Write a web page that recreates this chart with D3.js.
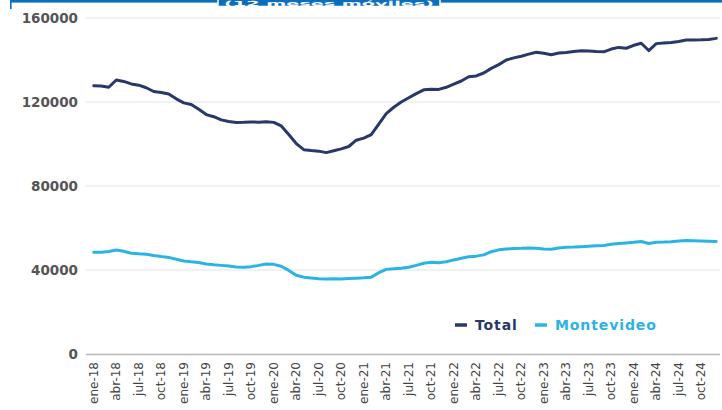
<!DOCTYPE html>
<html>
<head>
<meta charset="utf-8">
<script src="https://cdn.jsdelivr.net/npm/d3@7"></script>
<style>
  html, body { margin: 0; padding: 0; background: #fff; }
  svg { display: block; }
</style>
</head>
<body>
<svg id="chart" width="722" height="410"></svg>
<script>
// Monthly labels ene-18 .. dic-24
const monthNames = ["ene","feb","mar","abr","may","jun","jul","ago","sep","oct","nov","dic"];
const years = ["18","19","20","21","22","23","24"];
const months = years.flatMap(y => monthNames.map(m => m + "-" + y));

// Y axis ticks
const yTicks = [0, 40000, 80000, 120000, 160000];

// Series (12-month moving totals)
const totalValues = [
  127700,127600,127000,130500,129800,128600,128000,126800,125000,124500,123800,121500,
  119600,118800,116500,114000,113000,111500,110700,110200,110300,110500,110400,110600,
  110300,108600,104500,100200,97300,96900,96600,95900,96800,97700,98800,101800,
  102800,104500,109500,114500,117500,120000,122000,124000,125800,126100,126000,127000,
  128500,130000,132000,132400,133800,136000,137800,140000,141000,141800,142800,143700,
  143200,142500,143300,143600,144000,144400,144300,144000,143900,145200,146000,145600,
  147000,148000,144500,147800,148100,148300,148800,149500,149500,149600,149800,150300
];
const montevideoValues = [
  48400,48400,48800,49500,48900,48000,47700,47500,46900,46400,46000,45100,
  44300,43900,43600,42900,42500,42200,41900,41400,41300,41600,42200,42900,
  42700,41800,39800,37500,36600,36200,35800,35700,35800,35700,35900,36100,
  36300,36600,38700,40300,40600,40800,41300,42200,43200,43700,43500,43900,
  44800,45600,46300,46600,47200,48700,49600,50000,50200,50300,50500,50400,
  50000,49900,50500,50800,50900,51100,51300,51500,51700,52300,52600,52900,
  53200,53600,52600,53200,53300,53500,53800,54000,53900,53800,53700,53600
];

const seriesNames = ["Total", "Montevideo"];
const seriesColors = ["#28386a", "#2bb3e6"];
const series = [totalValues, montevideoValues];

const svg = d3.select("#chart");

// Header strip with the subtitle box
svg.append("rect").attr("x", 10).attr("y", 0).attr("width", 712).attr("height", 2.6).attr("fill", "#0a6fc0");
svg.append("rect").attr("x", 10).attr("y", 0).attr("width", 1.6).attr("height", 9).attr("fill", "#0a6fc0");
svg.append("rect").attr("x", 218).attr("y", -2).attr("width", 222).attr("height", 8.5)
  .attr("fill", "#0a6fc0").attr("stroke", "#fff").attr("stroke-width", 1.5);
svg.append("text").attr("x", 224).attr("y", 5.6)
  .attr("font-family", "DejaVu Sans, sans-serif").attr("font-weight", "bold").attr("font-size", 7)
  .attr("textLength", 210).attr("lengthAdjust", "spacingAndGlyphs")
  .attr("fill", "#fff").text("(12 meses móviles)");

const margin = { left: 90, right: 2 };
const width = 722;

const x = d3.scaleBand().domain(months).range([margin.left, width - margin.right]).padding(0);
const y = d3.scaleLinear().domain([0, 160000]).range([354, 18]);

// Gridlines
svg.append("g").selectAll("line").data(yTicks.filter(d => d > 0)).join("line")
  .attr("x1", 86).attr("x2", width - 2)
  .attr("y1", d => y(d)).attr("y2", d => y(d))
  .attr("stroke", "#e3e3e3").attr("stroke-width", 1.2);

// Y axis labels
const yAxis = svg.append("g").attr("transform", `translate(78,0)`)
  .call(d3.axisLeft(y).tickValues(yTicks).tickSize(0).tickPadding(0).tickFormat(d3.format("d")));
yAxis.select(".domain").remove();
yAxis.selectAll("text")
  .attr("font-family", "DejaVu Sans, sans-serif").attr("font-weight", "bold")
  .attr("font-size", 13.5).attr("fill", "#555");

// X axis
const shown = months.filter((m, i) => i % 3 === 0);
const xAxis = svg.append("g").attr("transform", `translate(0,${y(0)})`)
  .call(d3.axisBottom(x).tickValues(shown).tickSize(0).tickPadding(0));
xAxis.select(".domain").attr("d", `M86,0.5H${width - 2}`).attr("stroke", "#b8b8b8").attr("stroke-width", 1.5);
xAxis.selectAll("text")
  .attr("font-family", "DejaVu Sans, sans-serif").attr("font-size", 12).attr("fill", "#444")
  .attr("text-anchor", "end").attr("dy", "0.35em")
  .attr("transform", "translate(0,8) rotate(-90)")
  .attr("x", 0).attr("y", 0);

// Lines
const line = d3.line().x((d, i) => x(months[i]) + x.bandwidth() / 2).y(d => y(d)).curve(d3.curveLinear);
series.forEach((vals, k) => {
  svg.append("path").datum(vals).attr("d", line)
    .attr("fill", "none").attr("stroke", seriesColors[k]).attr("stroke-width", 3)
    .attr("stroke-linejoin", "round").attr("stroke-linecap", "round");
});

// Legend
const legendPos = [455, 535];
seriesNames.forEach((name, k) => {
  const g = svg.append("g").attr("transform", `translate(${legendPos[k]},325)`);
  g.append("line").attr("x1", 0).attr("x2", 12).attr("y1", 0).attr("y2", 0)
    .attr("stroke", seriesColors[k]).attr("stroke-width", 3.5);
  g.append("text").attr("x", 20).attr("y", 0).attr("dy", "0.35em")
    .attr("font-family", "DejaVu Sans, sans-serif").attr("font-weight", "bold").attr("font-size", 14)
    .attr("letter-spacing", 0.9)
    .attr("fill", seriesColors[k]).text(name);
});
</script>
</body>
</html>
